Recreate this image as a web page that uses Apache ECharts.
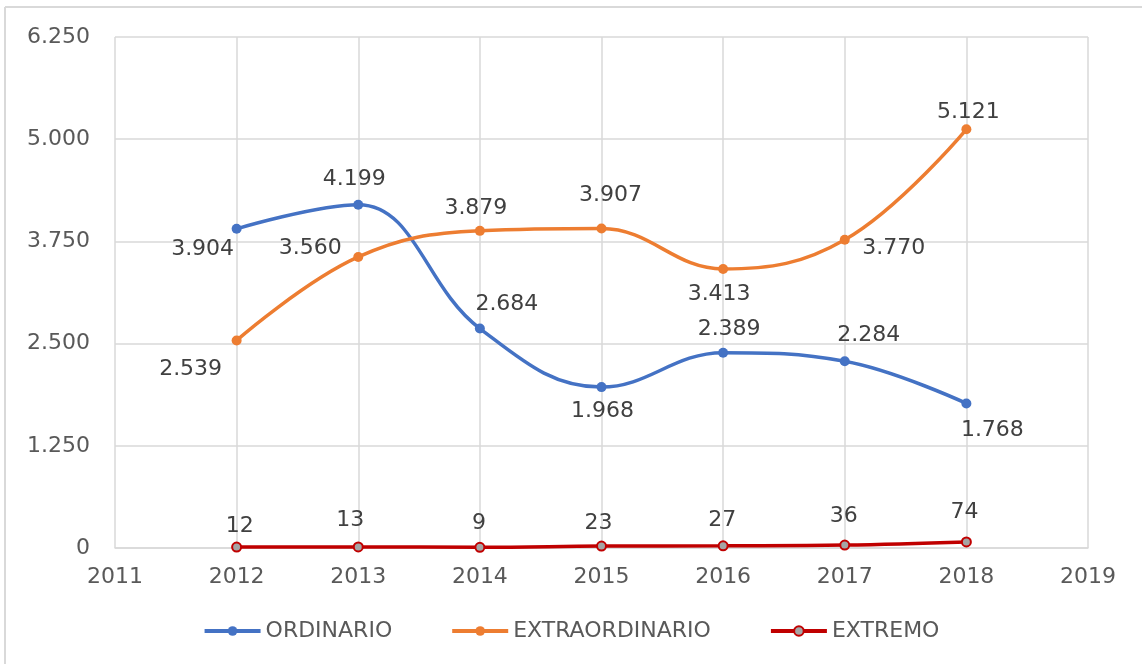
<!DOCTYPE html>
<html>
<head>
<meta charset="utf-8">
<script src="https://cdn.jsdelivr.net/npm/echarts@6/dist/echarts.min.js"></script>
<style>
  html, body { margin: 0; padding: 0; background: #fff; }
  #container { width: 1142px; height: 667px; }
</style>
</head>
<body>
<div id="container"></div>
<script>
var years = [2012, 2013, 2014, 2015, 2016, 2017, 2018];
var ordinario = [3904, 4199, 2684, 1968, 2389, 2284, 1768];
var extraordinario = [2539, 3560, 3879, 3907, 3413, 3770, 5121];
var extremo = [12, 13, 9, 23, 27, 36, 74];

// label offsets (px from the point) to mimic the manual placement
var ordOffsets = [[-34, 20], [-4, -25], [27, -24], [1, 24], [6, -23], [24, -26], [26, 27]];
var extOffsets = [[-46, 29], [-48, -9], [-4, -23], [9, -33], [-4, 25], [49, 9], [2, -17]];
var xtrOffsets = [[3, -21], [-8, -27], [-1, -24], [-3, -23], [-1, -26], [-1, -29], [-2, -30]];

var FONT = 'Verdana, "DejaVu Sans", sans-serif';

function fmt(v) {
  return String(v).replace(/\B(?=(\d{3})+(?!\d))/g, '.');
}

function build(values, offsets) {
  return values.map(function (v, i) {
    return {
      value: [years[i], v],
      label: { offset: offsets[i] }
    };
  });
}

var dom = document.getElementById('container');
var myChart = echarts.init(dom);

var labelStyle = {
  show: true,
  position: 'inside',
  color: '#404040',
  fontSize: 22,
  fontFamily: FONT,
  formatter: function (p) { return fmt(p.value[1]); }
};

var option = {
  animation: false,
  textStyle: { fontFamily: FONT },
  graphic: [
    { type: 'line', shape: { x1: 5, y1: 7, x2: 1142, y2: 7 }, style: { stroke: '#d9d9d9', lineWidth: 2 } },
    { type: 'line', shape: { x1: 5, y1: 7, x2: 5, y2: 664 }, style: { stroke: '#d9d9d9', lineWidth: 2 } }
  ],
  grid: { left: 115, right: 54, top: 37, bottom: 119 },
  legend: {
    bottom: 20,
    left: 'center',
    itemWidth: 56,
    itemHeight: 12,
    itemGap: 58,
    lineStyle: { width: 4 },
    textStyle: { color: '#595959', fontSize: 22, fontFamily: FONT },
    data: ['ORDINARIO', 'EXTRAORDINARIO', 'EXTREMO']
  },
  xAxis: {
    type: 'value',
    min: 2011,
    max: 2019,
    interval: 1,
    axisLine: { show: true, lineStyle: { color: '#d9d9d9', width: 1.5 } },
    axisTick: { show: false },
    axisLabel: { color: '#595959', fontSize: 22, fontFamily: FONT, margin: 18, formatter: function (v) { return String(v); } },
    splitLine: { show: true, lineStyle: { color: '#d9d9d9', width: 1.5 } }
  },
  yAxis: {
    type: 'value',
    min: 0,
    max: 6250,
    interval: 1250,
    axisLine: { show: false },
    axisTick: { show: false },
    axisLabel: { color: '#595959', fontSize: 22, fontFamily: FONT, margin: 25, formatter: fmt },
    splitLine: { show: true, lineStyle: { color: '#d9d9d9', width: 1.5 } }
  },
  series: [
    {
      name: 'ORDINARIO',
      type: 'line',
      smooth: 0.4,
      symbol: 'circle',
      symbolSize: 10,
      itemStyle: { color: '#4472C4' },
      lineStyle: { color: '#4472C4', width: 3.5 },
      label: labelStyle,
      data: build(ordinario, ordOffsets)
    },
    {
      name: 'EXTRAORDINARIO',
      type: 'line',
      smooth: 0.4,
      symbol: 'circle',
      symbolSize: 10,
      itemStyle: { color: '#ED7D31' },
      lineStyle: { color: '#ED7D31', width: 3.5 },
      label: labelStyle,
      data: build(extraordinario, extOffsets)
    },
    {
      name: 'EXTREMO',
      type: 'line',
      smooth: 0.4,
      symbol: 'circle',
      symbolSize: 9,
      itemStyle: { color: '#A5A5A5', borderColor: '#C00000', borderWidth: 2 },
      lineStyle: { color: '#C00000', width: 3.5 },
      label: labelStyle,
      data: build(extremo, xtrOffsets)
    }
  ]
};

if (option && typeof option === 'object') {
  myChart.setOption(option);
}
</script>
</body>
</html>
